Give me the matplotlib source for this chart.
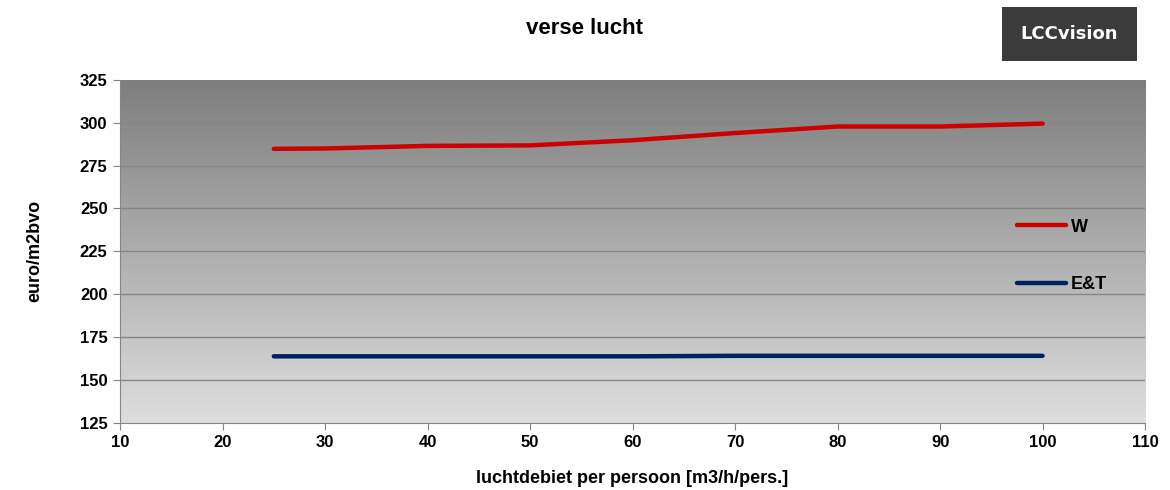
import matplotlib.pyplot as plt
import numpy as np
from matplotlib.patches import Rectangle

plt.rcParams['font.family'] = ['Liberation Sans', 'DejaVu Sans']

# luchtdebiet [m3/h/pers.]
debiet = [25, 30, 40, 50, 60, 70, 80, 90, 100]
# euro/m2bvo
w_values = [284.8, 285.0, 286.5, 286.8, 289.8, 294.0, 297.8, 297.8, 299.5]
et_values = [163.8, 163.8, 163.8, 163.8, 163.8, 164.1, 164.1, 164.1, 164.1]

xticks = list(range(10, 111, 10))
yticks = list(range(125, 326, 25))

fig = plt.figure(figsize=(11.7, 4.9), dpi=100)
ax = fig.add_axes([0.1026, 0.137, 0.8761, 0.700])

# grey gradient background of the plot area, dark at the top
grad = np.linspace(0, 1, 256).reshape(-1, 1)
cmap = plt.matplotlib.colors.LinearSegmentedColormap.from_list('g', ['#7e7e7e', '#dedede'])
ax.imshow(grad, cmap=cmap, extent=[10, 110, 125, 325], aspect='auto',
          zorder=0, origin='upper')

ax.set_xlim(10, 110)
ax.set_ylim(125, 325)
ax.set_xticks(xticks)
ax.set_yticks(yticks)
for y in yticks[1:-1]:
    ax.axhline(y, color='#868686', lw=1, zorder=1)

ax.plot(debiet, w_values, color='#cc0000', lw=3.2, solid_capstyle='round', label='W', zorder=3)
ax.plot(debiet, et_values, color='#002060', lw=3.2, solid_capstyle='round', label='E&T', zorder=3)

for s in ['top', 'right']:
    ax.spines[s].set_visible(False)
for s in ['left', 'bottom']:
    ax.spines[s].set_color('#868686')
ax.tick_params(direction='out', color='#868686', length=5, labelsize=12, pad=4)
for lab in ax.get_xticklabels() + ax.get_yticklabels():
    lab.set_fontweight('bold')

ax.set_xlabel('luchtdebiet per persoon [m3/h/pers.]', fontsize=13, fontweight='bold', labelpad=14)
ax.set_ylabel('euro/m2bvo', fontsize=13, fontweight='bold', labelpad=26)

leg = ax.legend(loc='upper left', bbox_to_anchor=(0.875, 0.595), frameon=False,
                handlelength=2.7, handletextpad=0.3, labelspacing=2.25,
                borderpad=0, borderaxespad=0, prop={'weight': 'bold', 'size': 13})

fig.text(0.5, 0.942, 'verse lucht', ha='center', va='center', fontsize=16, fontweight='bold')

fig.patches.append(Rectangle((0.856, 0.876), 0.116, 0.11, transform=fig.transFigure,
                             facecolor='#3b3b3b', edgecolor='none'))
fig.text(0.914, 0.931, 'LCCvision', ha='center', va='center', fontsize=13,
         fontweight='bold', color='white', family='DejaVu Sans')

fig.savefig('out.png', dpi=100)
